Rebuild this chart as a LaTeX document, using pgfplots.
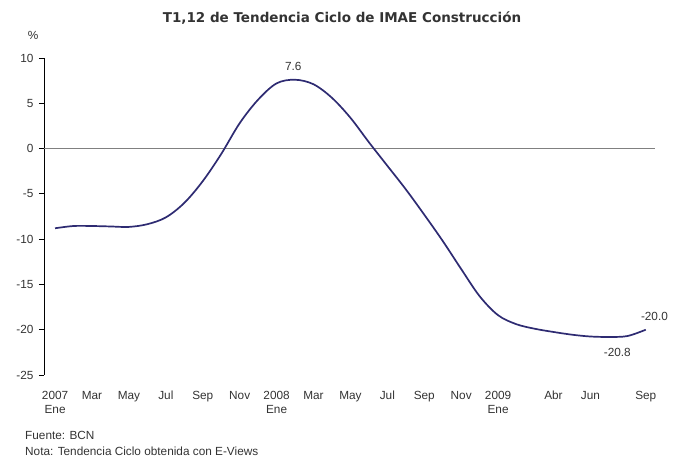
\documentclass[border=0pt]{standalone}
\usepackage{fontspec}
\setmainfont{Liberation Sans}
\newfontfamily\titlefont{DejaVu Sans}
\usepackage{pgfplots}
\pgfplotsset{compat=1.18}
\definecolor{linec}{HTML}{2E2B72}
\definecolor{txt}{HTML}{333333}
\begin{document}
\begin{tikzpicture}[x=1pt,y=1pt]
\path[use as bounding box] (-44,-82) rectangle (631,375);
\begin{axis}[at={(0,0)}, anchor=south west, scale only axis,
  width=611pt, height=317pt,
  xmin=-0.6, xmax=32.5, ymin=-25, ymax=10,
  axis y line*=left, axis x line*=bottom,
  x axis line style={draw=none},
  y axis line style={black, line width=0.8pt, -},
  xtick={0,2,4,6,8,10,12,14,16,18,20,22,24,27,29,32},
  xticklabels={{2007\\Ene},{Mar\\\mbox{}},{May\\\mbox{}},{Jul\\\mbox{}},{Sep\\\mbox{}},{Nov\\\mbox{}},{2008\\Ene},{Mar\\\mbox{}},{May\\\mbox{}},{Jul\\\mbox{}},{Sep\\\mbox{}},{Nov\\\mbox{}},{2009\\Ene},{Abr\\\mbox{}},{Jun\\\mbox{}},{Sep\\\mbox{}}},
  xtick style={draw=none},
  ytick={-25,-20,...,10},
  ytick style={black, line width=0.8pt},
  tick align=outside, major tick length=5pt,
  x tick label style={align=center, anchor=base, font=\fontsize{11.8}{14.5}\selectfont, text=txt, yshift=-34pt},
  y tick label style={font=\fontsize{11.8}{14}\selectfont, text=txt, xshift=-2pt},
  /pgf/number format/assume math mode=true,
  clip=false,
]
\addplot[gray, line width=0.8pt] coordinates {(-0.6,0) (32.5,0)};
\addplot[linec, line width=1.7pt, smooth, tension=0.55] table {
k v
0 -8.8
1 -8.55
2 -8.55
3 -8.6
4 -8.65
5 -8.35
6 -7.6
7 -6.0
8 -3.6
9 -0.6
10 2.8
11 5.4
12 7.2
13 7.6
14 7.1
15 5.6
16 3.4
17 0.7
18 -1.9
19 -4.5
20 -7.3
21 -10.2
22 -13.3
23 -16.3
24 -18.4
25 -19.4
26 -19.9
27 -20.25
28 -20.55
29 -20.75
30 -20.8
31 -20.7
32 -20.0
};
\node[text=txt, font=\fontsize{11.8}{14}\selectfont] at (axis cs:12.9,9.05) {7.6};
\node[text=txt, font=\fontsize{11.8}{14}\selectfont] at (axis cs:30.46,-22.5) {-20.8};
\node[text=txt, font=\fontsize{11.8}{14}\selectfont] at (axis cs:32.47,-18.5) {-20.0};
\end{axis}
\node[text=txt, font=\fontsize{11.8}{14}\selectfont] at (-11,340) {\%};
\node[text=txt, font=\fontsize{13.5}{16}\titlefont\bfseries] at (298,357) {T1,12 de Tendencia Ciclo de IMAE Construcción};
\node[text=txt, font=\fontsize{11.8}{14}\selectfont, anchor=west, inner sep=0pt] at (-19,-60) {Fuente: BCN};
\node[text=txt, font=\fontsize{11.8}{14}\selectfont, anchor=west, inner sep=0pt] at (-19,-76) {Nota: Tendencia Ciclo obtenida con E-Views};
\end{tikzpicture}
\end{document}
